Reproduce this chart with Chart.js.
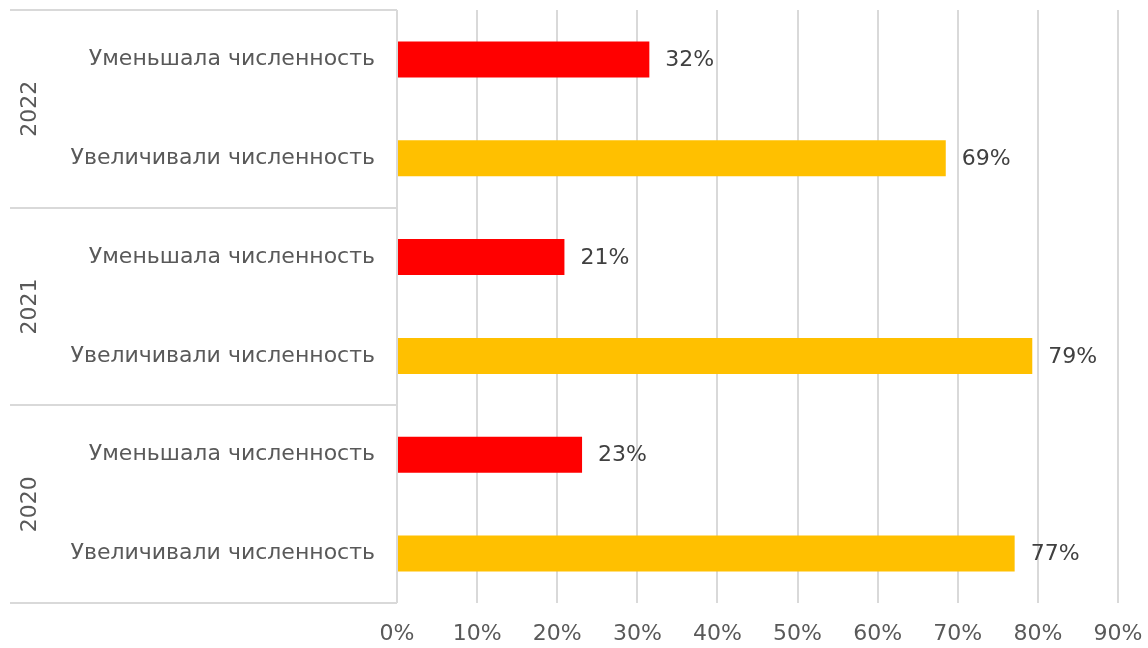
<!DOCTYPE html>
<html>
<head>
<meta charset="utf-8">
<script src="https://cdn.jsdelivr.net/npm/chart.js@4.4.1/dist/chart.umd.min.js"></script>
<style>
  html, body { margin:0; padding:0; background:#fff; }
  #wrap { width:1148px; height:648px; position:relative; }
</style>
</head>
<body>
<div id="wrap"><canvas id="chart"></canvas></div>
<script>
// Datos (de arriba hacia abajo)
const categorias = ['Уменьшала численность','Увеличивали численность','Уменьшала численность','Увеличивали численность','Уменьшала численность','Увеличивали численность'];
const anios = ['2022','2021','2020'];
const valores = [31.5, 68.5, 20.9, 79.3, 23.1, 77.1];
const etiquetas = ['32%','69%','21%','79%','23%','77%'];
const colores = ['#FF0000','#FFC000','#FF0000','#FFC000','#FF0000','#FFC000'];
const ticksX = [0,10,20,30,40,50,60,70,80,90];

const FONT = '"DejaVu Sans", sans-serif';
const FS = 22;
const GRIS = '#D9D9D9';

// Etiquetas de valor + eje de dos niveles
const extras = {
  id:'extras',
  afterDatasetsDraw(chart){
    const ctx = chart.ctx;
    const meta = chart.getDatasetMeta(0);
    ctx.save();
    ctx.font = FS + 'px ' + FONT;
    ctx.fillStyle = '#404040';
    ctx.textAlign = 'left';
    ctx.textBaseline = 'middle';
    meta.data.forEach((bar,i)=>{ ctx.fillText(etiquetas[i], bar.x + 16, bar.y + 1); });
    ctx.restore();
  },
  afterDraw(chart){
    const ctx = chart.ctx;
    const y = chart.scales.y;
    const area = chart.chartArea;
    const left = 10;
    const step = (y.getPixelForValue(1) - y.getPixelForValue(0));
    ctx.save();
    ctx.strokeStyle = GRIS;
    ctx.lineWidth = 2;
    // lineas separadoras
    for (let g=0; g<=anios.length; g++){
      const py = Math.round(y.getPixelForValue(g*2) - step/2);
      ctx.beginPath(); ctx.moveTo(left, py); ctx.lineTo(area.left, py); ctx.stroke();
    }
    // eje vertical
    ctx.beginPath(); ctx.moveTo(area.left, area.top); ctx.lineTo(area.left, area.bottom); ctx.stroke();
    // años
    ctx.fillStyle = '#595959';
    ctx.font = FS + 'px ' + FONT;
    ctx.textAlign = 'center';
    ctx.textBaseline = 'middle';
    anios.forEach((a,g)=>{
      const cy = (y.getPixelForValue(g*2) + y.getPixelForValue(g*2+1))/2;
      ctx.save();
      ctx.translate(30, cy);
      ctx.rotate(-Math.PI/2);
      ctx.fillText(a, 0, 0);
      ctx.restore();
    });
    ctx.restore();
  }
};

new Chart(document.getElementById('chart'), {
  type:'bar',
  data:{ labels: categorias, datasets:[{ data: valores, backgroundColor: colores, barPercentage:0.365, categoryPercentage:1 }] },
  options:{
    indexAxis:'y',
    responsive:true, maintainAspectRatio:false, animation:false,
    layout:{ padding:{ left:10, right:30, top:10, bottom:0 } },
    plugins:{ legend:{ display:false }, tooltip:{ enabled:false } },
    scales:{
      x:{
        min:0, max:90,
        afterBuildTicks: s => { s.ticks = ticksX.map(v=>({value:v})); },
        afterFit: s => { s.height = 45; s.paddingLeft = 0; s.paddingRight = 0; },
        grid:{ color:GRIS, lineWidth:2, drawTicks:false },
        border:{ display:false },
        ticks:{ padding:18, color:'#595959', font:{ family:FONT, size:FS }, callback: v => v + '%' }
      },
      y:{
        afterFit: s => { s.width = 387; s.paddingTop = 0; s.paddingBottom = 0; },
        grid:{ display:false, drawTicks:false },
        border:{ display:false },
        ticks:{ padding:22, color:'#595959', font:{ family:FONT, size:FS } }
      }
    }
  },
  plugins:[extras]
});
</script>
</body>
</html>
